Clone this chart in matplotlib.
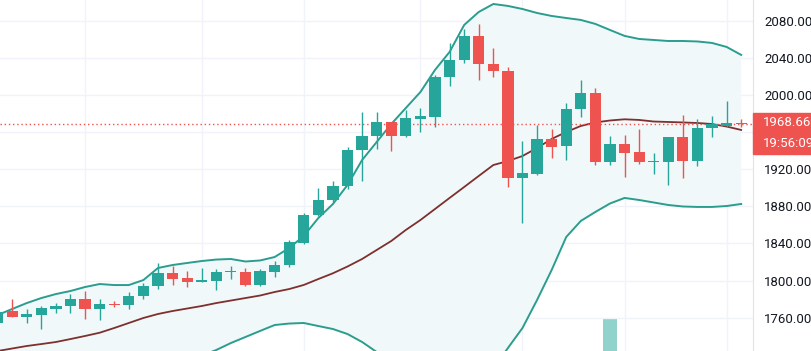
import matplotlib.pyplot as plt
from matplotlib.patches import Rectangle
import matplotlib.transforms as mtransforms
import numpy as np

# daily candles (oldest -> newest)
opens = [1754.0, 1767.2, 1760.4, 1762.9, 1769.4, 1772.6, 1779.8, 1769.4, 1775.1, 1773.7,
         1783.4, 1794.2, 1808.5, 1802.8, 1798.5, 1799.9, 1809.2, 1809.6, 1795.3, 1809.6,
         1816.8, 1841.0, 1870.7, 1886.5, 1902.0, 1940.8, 1956.2, 1970.7, 1955.9, 1974.2,
         1976.7, 2019.2, 2037.5, 2063.7, 2033.2, 2026.3, 1910.9, 1914.9, 1952.7, 1944.8,
         1984.7, 2001.9, 1928.2, 1947.0, 1938.1, 1927.5, 1927.5, 1954.3, 1928.9, 1964.9,
         1967.2, 1969.4]
highs = [1768.0, 1779.8, 1769.0, 1772.6, 1775.5, 1785.2, 1788.8, 1779.8, 1778.0, 1787.4,
         1797.1, 1818.6, 1815.7, 1810.7, 1813.3, 1812.2, 1815.7, 1813.3, 1812.2, 1821.1,
         1843.8, 1872.6, 1899.5, 1907.7, 1944.0, 1982.1, 1981.8, 1971.5, 1983.9, 1985.8,
         2021.7, 2056.5, 2070.9, 2076.3, 2050.5, 2030.6, 1950.0, 1967.4, 1963.5, 1991.2,
         2016.3, 2007.3, 1955.9, 1957.0, 1962.9, 1937.9, 1954.8, 1978.0, 1974.4, 1977.5,
         1993.3, 1974.7]
lows = [1752.0, 1760.5, 1754.0, 1747.5, 1765.4, 1764.7, 1758.3, 1757.5, 1771.2, 1769.4,
        1779.8, 1790.6, 1794.9, 1792.8, 1798.0, 1789.9, 1801.7, 1794.2, 1794.2, 1804.2,
        1815.0, 1839.5, 1870.0, 1883.3, 1898.4, 1907.4, 1941.6, 1940.1, 1954.5, 1960.5,
        1965.9, 2009.8, 2034.9, 2016.3, 2019.8, 1901.2, 1862.4, 1913.9, 1932.5, 1930.0,
        1976.1, 1924.6, 1924.6, 1912.0, 1925.2, 1914.6, 1903.1, 1910.3, 1923.6, 1954.3,
        1965.4, 1965.9]
closes = [1766.5, 1761.1, 1763.7, 1770.1, 1772.9, 1779.8, 1769.7, 1774.8, 1773.4, 1783.7,
          1794.2, 1808.5, 1802.0, 1798.5, 1800.7, 1809.6, 1809.8, 1795.3, 1810.7, 1816.8,
          1841.9, 1870.7, 1886.9, 1902.0, 1940.8, 1956.2, 1970.7, 1956.2, 1975.0, 1977.5,
          2019.2, 2037.8, 2063.7, 2033.2, 2026.3, 1910.9, 1915.7, 1952.7, 1944.4, 1984.7,
          2001.9, 1928.2, 1947.0, 1937.3, 1927.5, 1928.3, 1954.3, 1928.9, 1964.9, 1968.3,
          1970.1, 1968.66]

# bollinger bands
bb_upper = [1762.9, 1769.4, 1775.8, 1781.2, 1785.5, 1788.8, 1793.1, 1796.3, 1795.2, 1795.2,
            1800.6, 1813.6, 1816.8, 1819.0, 1821.1, 1822.7, 1823.3, 1820.6, 1821.7, 1825.4,
            1835.1, 1848.1, 1867.5, 1882.6, 1903.1, 1930.0, 1949.4, 1968.8, 1986.1, 2003.3,
            2027.1, 2046.5, 2075.6, 2089.6, 2098.2, 2096.1, 2092.8, 2088.5, 2085.3, 2083.1,
            2081.0, 2076.7, 2070.2, 2063.8, 2060.5, 2059.4, 2058.3, 2058.3, 2057.8, 2056.2,
            2051.9, 2043.3]
bb_basis = [1724.1, 1726.8, 1729.5, 1731.6, 1733.8, 1737.0, 1740.3, 1743.8, 1748.9, 1754.3,
            1759.7, 1764.0, 1767.2, 1769.9, 1772.6, 1775.8, 1778.5, 1781.2, 1783.9, 1787.7,
            1790.9, 1795.3, 1801.7, 1807.9, 1815.2, 1823.3, 1833.0, 1842.7, 1854.6, 1865.3,
            1877.2, 1889.1, 1900.9, 1912.8, 1924.6, 1928.9, 1934.3, 1943.0, 1952.7, 1960.2,
            1966.7, 1970.5, 1972.6, 1973.9, 1973.2, 1971.5, 1971.0, 1970.5, 1969.9, 1968.8,
            1966.1, 1962.4]
bb_lower = [1690.0, 1692.0, 1694.0, 1696.0, 1698.0, 1700.0, 1702.0, 1704.0, 1706.0, 1708.0,
            1710.0, 1712.0, 1714.0, 1716.0, 1719.0, 1725.2, 1732.7, 1739.2, 1745.7, 1752.1,
            1753.7, 1754.3, 1751.0, 1747.8, 1742.4, 1733.8, 1723.0, 1712.0, 1702.0, 1695.0,
            1690.0, 1688.0, 1686.0, 1690.0, 1705.0, 1727.3, 1748.9, 1779.1, 1811.4, 1847.0,
            1864.3, 1874.0, 1883.1, 1889.1, 1886.9, 1884.2, 1881.5, 1879.9, 1879.4, 1879.4,
            1880.4, 1882.6]

# only one volume bar reaches into view
vol_index = [42]
vol_value = [1.0]

price_ticks = [1720, 1760, 1800, 1840, 1880, 1920, 1960, 2000, 2040, 2080]
hidden_tick = 1960  # sits under the last-price label
week_starts = [6, 14, 21, 29, 36, 43, 50]
countdown = "19:56:09"

UP = "#26a69a"
DOWN = "#ef5350"
BAND = "#2a9d8f"
BASIS = "#7e2f2f"
GRID = "#f0f3fa"

plt.rcParams["font.family"] = ["Roboto", "DejaVu Sans"]

fig = plt.figure(figsize=(8.11, 3.51), dpi=100)
ax = fig.add_axes([0, 1 - 360 / 351, 753 / 811, 360 / 351])
x = np.arange(len(closes))

ax.set_xlim(0.165, 51.81)
ax.set_ylim(1714.4, 2102.5)

# grid
for t in price_ticks:
    ax.axhline(t, color=GRID, lw=1, zorder=0)
for w in week_starts:
    ax.axvline(w, color=GRID, lw=1, zorder=0)

# bands
ax.fill_between(x, bb_lower, bb_upper, color="#f1f8f9", lw=0, zorder=0.5)
ax.plot(x, bb_upper, color=BAND, lw=1.4, zorder=2)
ax.plot(x, bb_lower, color=BAND, lw=1.4, zorder=2)
ax.plot(x, bb_basis, color=BASIS, lw=1.3, zorder=2)

# volume
axv = ax.twinx()
axv.set_ylim(0, 360 / 42)
axv.bar(vol_index, vol_value, width=0.95, color="#26a69a", alpha=0.5, lw=0)
axv.axis("off")
ax.set_zorder(axv.get_zorder() + 1)
ax.patch.set_visible(False)

# candles
o = np.array(opens)
c = np.array(closes)
cols = [UP if cc >= oo else DOWN for oo, cc in zip(o, c)]
ax.vlines(x, lows, highs, colors=cols, lw=1, zorder=3)
ax.bar(x, np.maximum(np.abs(c - o), 1.3), bottom=np.minimum(o, c), width=0.77,
       color=cols, lw=0, zorder=4)

# last price line
last = closes[-1]
ax.axhline(last, color=DOWN, lw=1, ls=(0, (1, 2)), zorder=3.5)

# axis
ax.yaxis.tick_right()
ax.set_yticks(price_ticks)
ax.set_yticklabels(["" if t == hidden_tick else f"{t:.2f}" for t in price_ticks])
ax.tick_params(axis="y", length=0, pad=8, labelsize=9.5, labelcolor="#131722")
ax.set_xticks([])
for s in ["top", "left", "bottom"]:
    ax.spines[s].set_visible(False)
ax.spines["right"].set_color("#e0e3eb")

# price / countdown labels
upp = (2102.5 - 1714.4) / 360.0
trans = mtransforms.blended_transform_factory(ax.transAxes, ax.transData)
ax.add_patch(Rectangle((1.0, last - 8.5 * upp), 0.1, 19.4 * upp, transform=trans,
                       color=DOWN, clip_on=False, zorder=10))
ax.add_patch(Rectangle((1.0, last - 29.8 * upp), 0.1, 21.3 * upp, transform=trans,
                       color=DOWN, clip_on=False, zorder=10))
ax.text(1.0 + 10 / 753, last + 1.2 * upp, f"{last:.2f}", transform=trans, color="white",
        fontsize=9.5, va="center", ha="left", zorder=11)
ax.text(1.0 + 10 / 753, last - 19.2 * upp, countdown, transform=trans, color="white",
        fontsize=9.5, va="center", ha="left", zorder=11)

fig.savefig("out.png", dpi=100)
